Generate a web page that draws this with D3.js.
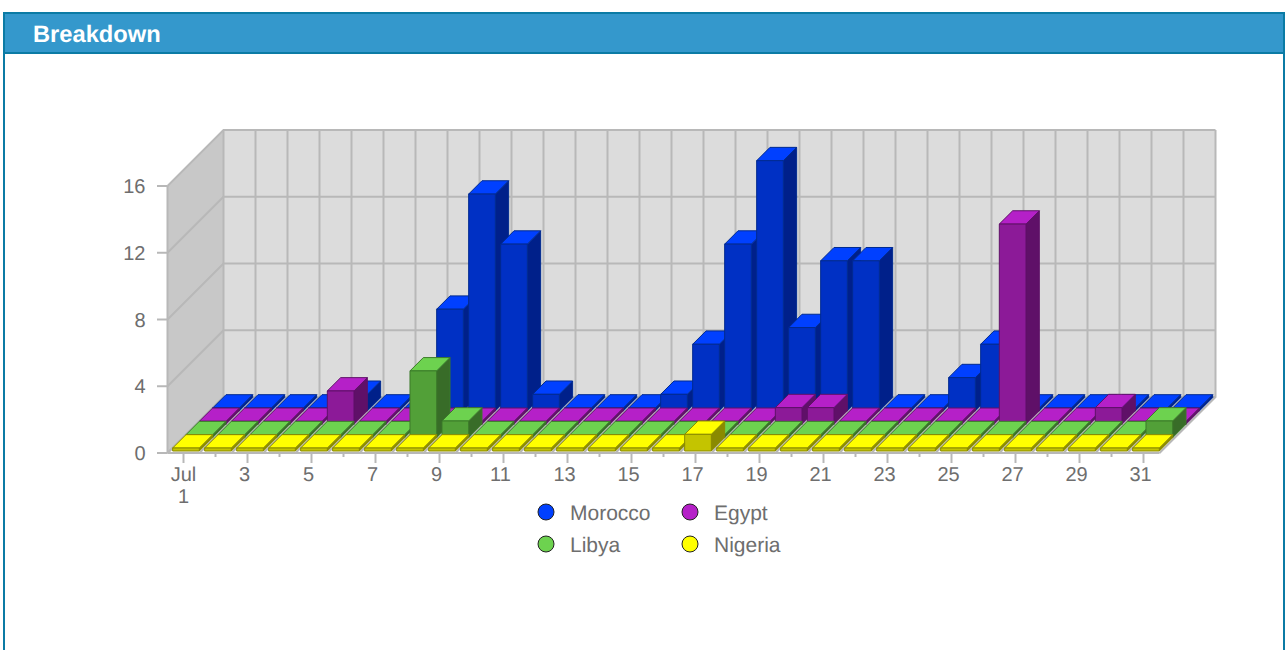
<!DOCTYPE html>
<html>
<head>
<meta charset="utf-8">
<script src="https://cdn.jsdelivr.net/npm/d3@7/dist/d3.min.js"></script>
<style>
  html, body { margin: 0; padding: 0; background: #fff; overflow: hidden; }
  svg { display: block; font-family: "Liberation Sans", Arial, sans-serif; text-rendering: geometricPrecision; }
</style>
</head>
<body>
<svg id="chart" width="1287" height="650"></svg>
<script>
const title = "Breakdown";
const days = d3.range(1, 32);
const valueTicks = [0, 4, 8, 12, 16];
const tickLabels = ["Jul", "3", "5", "7", "9", "11", "13", "15", "17", "19", "21", "23", "25", "27", "29", "31"];

// one value per day of July
const morocco = [0,0,0,0,1,0,0,6.1,13,10,1,0,0,0,1,4,10,15,5,9,9,0,0,2,4,0,0,0,0,0,0];
const egypt   = [0,0,0,0,2,0,0,0,0,0,0,0,0,0,0,0,0,0,1,1,0,0,0,0,0,12,0,0,1,0,0];
const libya   = [0,0,0,0,0,0,0,4,1,0,0,0,0,0,0,0,0,0,0,0,0,0,0,0,0,0,0,0,0,0,1];
const nigeria = [0,0,0,0,0,0,0,0,0,0,0,0,0,0,0,0,1,0,0,0,0,0,0,0,0,0,0,0,0,0,0];

// back row first so the front rows paint over it
const seriesList = [
  { name: "Morocco", values: morocco, row: 3, top: "#0040ff", front: "#0030c4", side: "#00208a", line: "#002a90" },
  { name: "Egypt",   values: egypt,   row: 2, top: "#b520c8", front: "#8c1a98", side: "#5f1068", line: "#5f1068" },
  { name: "Libya",   values: libya,   row: 1, top: "#6dd24f", front: "#52a038", side: "#386c28", line: "#3c7a2a" },
  { name: "Nigeria", values: nigeria, row: 0, top: "#ffff00", front: "#c4c400", side: "#8a8a00", line: "#8a8a00" }
];

const svg = d3.select("#chart");
const line = d3.line();
const gridColor = "#b8b8b8";
const textColor = "#6e6e6e";
const depth = 56;
const rowDepth = 13.33;
const barDepth = 13.33;
const minHeight = 3;

const x = d3.scaleBand().domain(days).range([167.5, 1159.5]);
const barX = d3.scaleBand().domain(days).range([170, 1162]).paddingInner(1 / 6).paddingOuter(1 / 12);
const y = d3.scaleLinear().domain([0, 16]).range([453, 186]);

// panel
svg.append("rect").attr("x", 4).attr("y", 13).attr("width", 1280).attr("height", 660)
  .attr("fill", "#fff").attr("stroke", "#0b7ba5").attr("stroke-width", 2);
svg.append("rect").attr("x", 5).attr("y", 14).attr("width", 1278).attr("height", 38).attr("fill", "#3498cc");
svg.append("rect").attr("x", 4).attr("y", 52).attr("width", 1280).attr("height", 2).attr("fill", "#0b7ba5");
svg.append("text").attr("x", 33).attr("y", 42).attr("fill", "#fff")
  .attr("font-size", 23.7).attr("font-weight", "bold").text(title);

// walls
const x0 = x.range()[0], x1 = x.range()[1];
svg.append("path")
  .attr("d", line([[x0, y(0)], [x0 + depth, y(0) - depth], [x0 + depth, y(16) - depth], [x0, y(16)]]) + "Z")
  .attr("fill", "#c8c8c8");
svg.append("rect").attr("x", x0 + depth).attr("y", y(16) - depth)
  .attr("width", x1 - x0).attr("height", y(0) - y(16)).attr("fill", "#dcdcdc");

const grid = svg.append("g").attr("fill", "none").attr("stroke", gridColor).attr("stroke-width", 2);
valueTicks.forEach((v) => {
  grid.append("path").attr("d", line([[x0, y(v)], [x0 + depth, y(v) - depth], [x1 + depth, y(v) - depth]]));
});
d3.range(0, days.length + 1).forEach((i) => {
  const gx = x0 + i * x.step();
  grid.append("path").attr("d", line([[gx, y(0)], [gx + depth, y(0) - depth], [gx + depth, y(16) - depth]]));
});
grid.append("path").attr("d", line([[x0, y(0)], [x0, y(16)]]));
grid.append("path").attr("d", line([[x0, y(0)], [x1, y(0)]]));

// axes
const yAxis = svg.append("g");
valueTicks.forEach((v) => {
  yAxis.append("line").attr("x1", 157).attr("x2", x0).attr("y1", y(v)).attr("y2", y(v))
    .attr("stroke", gridColor).attr("stroke-width", 2);
  yAxis.append("text").attr("x", 145.5).attr("y", y(v)).attr("dy", "0.35em").attr("text-anchor", "end")
    .attr("fill", textColor).attr("font-size", 20).text(v);
});

const xAxis = svg.append("g");
days.forEach((d, i) => {
  const tx = x(d) + x.bandwidth() / 2;
  xAxis.append("line").attr("x1", tx).attr("x2", tx).attr("y1", y(0))
    .attr("y2", y(0) + (i % 2 === 0 ? 10 : 4))
    .attr("stroke", gridColor).attr("stroke-width", 2);
});
tickLabels.forEach((label, i) => {
  const tx = x(days[i * 2]) + x.bandwidth() / 2;
  const lx = i === 0 ? tx : tx - 3;
  xAxis.append("text").attr("x", lx).attr("y", 481).attr("text-anchor", "middle")
    .attr("fill", textColor).attr("font-size", 20).text(label);
  if (i === 0) {
    xAxis.append("text").attr("x", lx).attr("y", 503).attr("text-anchor", "middle")
      .attr("fill", textColor).attr("font-size", 20).text(days[0]);
  }
});

// bars
seriesList.forEach((s) => {
  const g = svg.append("g").attr("stroke", s.line).attr("stroke-width", 1).attr("stroke-linejoin", "round");
  s.values.forEach((v, i) => {
    const off = s.row * rowDepth;
    const left = barX(days[i]) + off;
    const right = left + barX.bandwidth();
    const base = y(0) - 2 - off;
    const top = base - Math.max(y(0) - y(v), minHeight);
    g.append("path").attr("fill", s.side)
      .attr("d", line([[right, base], [right + barDepth, base - barDepth], [right + barDepth, top - barDepth], [right, top]]) + "Z");
    g.append("path").attr("fill", s.top)
      .attr("d", line([[left, top], [left + barDepth, top - barDepth], [right + barDepth, top - barDepth], [right, top]]) + "Z");
    g.append("rect").attr("fill", s.front)
      .attr("x", left).attr("y", top).attr("width", right - left).attr("height", base - top);
  });
});

// legend
const legendX = d3.scaleOrdinal().domain(["Morocco", "Libya", "Egypt", "Nigeria"]).range([546, 546, 690, 690]);
const legendY = d3.scaleOrdinal().domain(["Morocco", "Egypt", "Libya", "Nigeria"]).range([513, 513, 545, 545]);
const legend = svg.append("g");
seriesList.forEach((s) => {
  legend.append("circle").attr("cx", legendX(s.name)).attr("cy", legendY(s.name) - 1).attr("r", 8)
    .attr("fill", s.top).attr("stroke", "#222").attr("stroke-width", 1);
  legend.append("text").attr("x", legendX(s.name) + 24).attr("y", legendY(s.name)).attr("dy", "0.35em")
    .attr("fill", textColor).attr("font-size", 21).text(s.name);
});
</script>
</body>
</html>
